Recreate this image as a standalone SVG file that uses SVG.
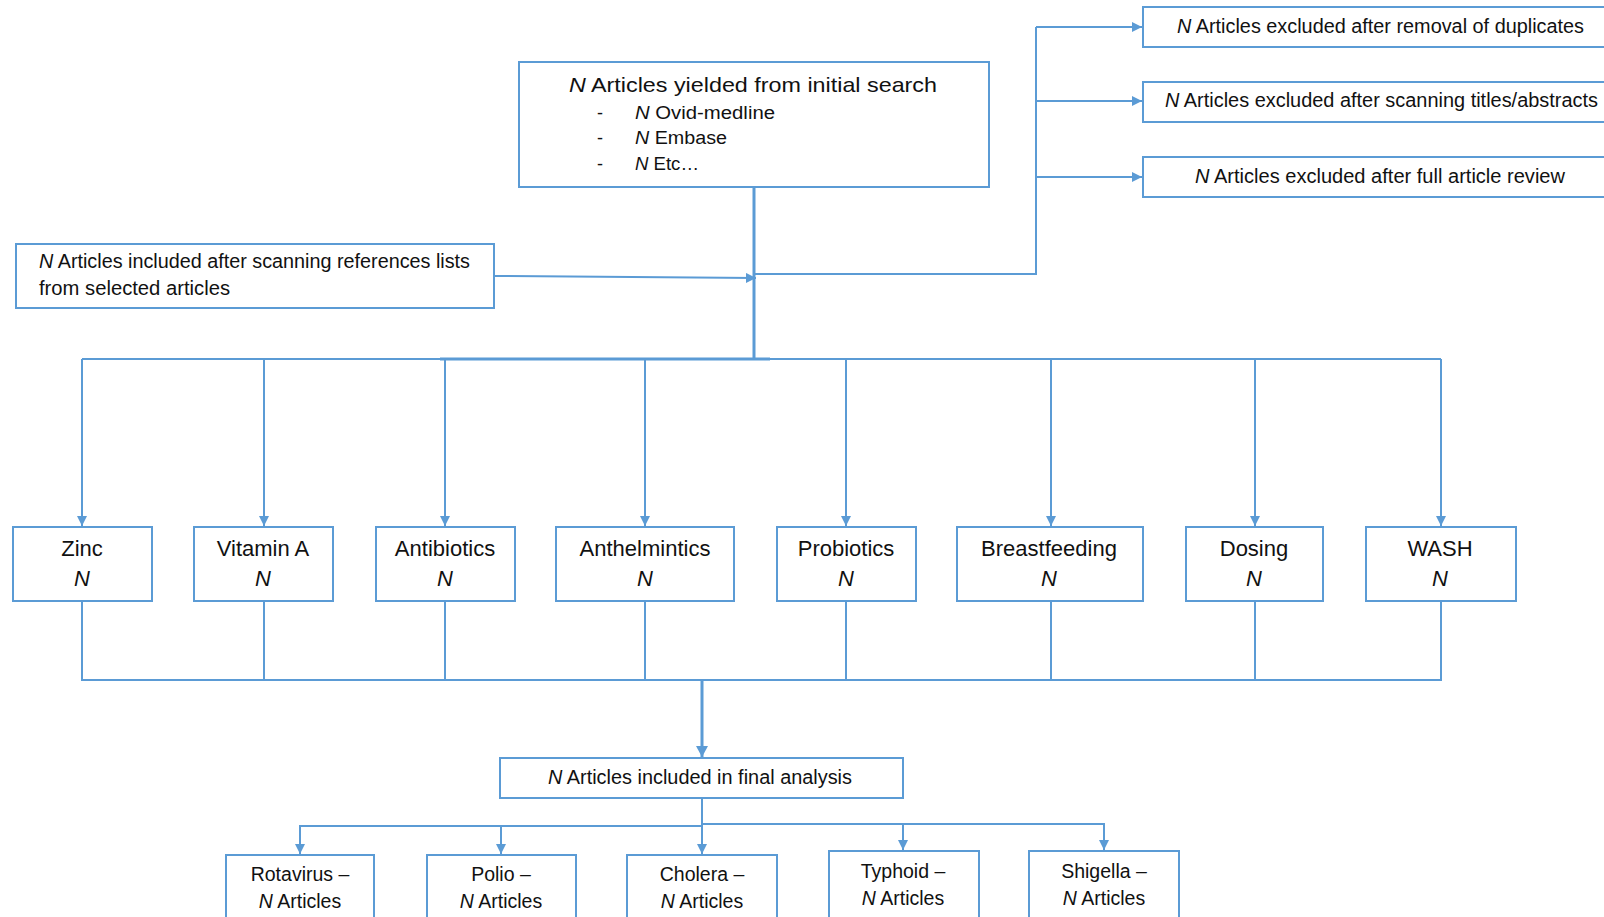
<svg xmlns="http://www.w3.org/2000/svg" width="1604" height="917" viewBox="0 0 1604 917">
<style>
.box{fill:#fff;stroke:#5B9BD5;stroke-width:2}
.ln{fill:none;stroke:#5B9BD5;stroke-width:2}
.tk{fill:none;stroke:#5B9BD5;stroke-width:3}
text{font-family:"Liberation Sans",Arial,sans-serif;fill:#111}
.c{text-anchor:middle}
.it{font-style:italic}
.f22{font-size:22px}
.f19{font-size:19.5px}
.f18{font-size:18px}
</style>
<defs>
<marker id="ah" markerUnits="userSpaceOnUse" markerWidth="10" markerHeight="10" refX="10" refY="5" orient="auto">
<path d="M0,0 L10,5 L0,10 z" fill="#5B9BD5"/>
</marker>
<marker id="ahb" markerUnits="userSpaceOnUse" markerWidth="12" markerHeight="12" refX="11" refY="6" orient="auto">
<path d="M0,0 L11,6 L0,12 z" fill="#5B9BD5"/>
</marker>
</defs>
<g id="connectors">
<line class="tk" x1="754" y1="187" x2="754" y2="360"/>
<polyline class="ln" points="754,274 1036,274 1036,27"/>
<line class="ln" x1="1036" y1="27" x2="1142" y2="27" marker-end="url(#ah)"/>
<line class="ln" x1="1036" y1="101" x2="1142" y2="101" marker-end="url(#ah)"/>
<line class="ln" x1="1036" y1="177" x2="1142" y2="177" marker-end="url(#ah)"/>
<line class="ln" x1="494" y1="276" x2="756" y2="278" marker-end="url(#ah)"/>
<line class="ln" x1="82" y1="359" x2="1441" y2="359"/>
<line class="tk" x1="440" y1="359" x2="770" y2="359"/>
<line class="ln" x1="82" y1="359" x2="82" y2="526" marker-end="url(#ah)"/>
<line class="ln" x1="264" y1="359" x2="264" y2="526" marker-end="url(#ah)"/>
<line class="ln" x1="445" y1="359" x2="445" y2="526" marker-end="url(#ah)"/>
<line class="ln" x1="645" y1="359" x2="645" y2="526" marker-end="url(#ah)"/>
<line class="ln" x1="846" y1="359" x2="846" y2="526" marker-end="url(#ah)"/>
<line class="ln" x1="1051" y1="359" x2="1051" y2="526" marker-end="url(#ah)"/>
<line class="ln" x1="1255" y1="359" x2="1255" y2="526" marker-end="url(#ah)"/>
<line class="ln" x1="1441" y1="359" x2="1441" y2="526" marker-end="url(#ah)"/>
<polyline class="ln" points="82,601 82,680 1441,680 1441,601"/>
<line class="ln" x1="264" y1="601" x2="264" y2="680"/>
<line class="ln" x1="445" y1="601" x2="445" y2="680"/>
<line class="ln" x1="645" y1="601" x2="645" y2="680"/>
<line class="ln" x1="846" y1="601" x2="846" y2="680"/>
<line class="ln" x1="1051" y1="601" x2="1051" y2="680"/>
<line class="ln" x1="1255" y1="601" x2="1255" y2="680"/>
<line class="tk" x1="702" y1="680" x2="702" y2="757" marker-end="url(#ahb)"/>
<line class="ln" x1="702" y1="798" x2="702" y2="826"/>
<polyline class="ln" points="300,854 300,826 702,826"/>
<line class="ln" x1="501" y1="826" x2="501" y2="854" marker-end="url(#ah)"/>
<line class="ln" x1="702" y1="826" x2="702" y2="854" marker-end="url(#ah)"/>
<polyline class="ln" points="702,824 1104,824 1104,850" marker-end="url(#ah)"/>
<line class="ln" x1="903" y1="824" x2="903" y2="850" marker-end="url(#ah)"/>
<line class="ln" x1="300" y1="826" x2="300" y2="854" marker-end="url(#ah)"/>
</g>
<g id="n-initial">
<rect class="box" x="519" y="62" width="470" height="125"/>
<text x="569" y="92" font-size="21" textLength="368" lengthAdjust="spacingAndGlyphs"><tspan class="it">N</tspan> Articles yielded from initial search</text>
<text x="597" y="119" class="f18">-</text>
<text x="635" y="119" class="f18" textLength="140" lengthAdjust="spacingAndGlyphs"><tspan class="it">N</tspan> Ovid-medline</text>
<text x="597" y="144" class="f18">-</text>
<text x="635" y="144" class="f18" textLength="92" lengthAdjust="spacingAndGlyphs"><tspan class="it">N</tspan> Embase</text>
<text x="597" y="170" class="f18">-</text>
<text x="635" y="170" class="f18" textLength="64" lengthAdjust="spacingAndGlyphs"><tspan class="it">N</tspan> Etc…</text>
</g>
<g id="n-dup">
<rect class="box" x="1143" y="7" width="470" height="40"/>
<text x="1177" y="33" class="f19" textLength="407" lengthAdjust="spacingAndGlyphs"><tspan class="it">N</tspan> Articles excluded after removal of duplicates</text>
</g>
<g id="n-titles">
<rect class="box" x="1143" y="82" width="470" height="40"/>
<text x="1165" y="107" class="f19" textLength="433" lengthAdjust="spacingAndGlyphs"><tspan class="it">N</tspan> Articles excluded after scanning titles/abstracts</text>
</g>
<g id="n-full">
<rect class="box" x="1143" y="157" width="470" height="40"/>
<text x="1195" y="183" class="f19" textLength="370" lengthAdjust="spacingAndGlyphs"><tspan class="it">N</tspan> Articles excluded after full article review</text>
</g>
<g id="n-refs">
<rect class="box" x="16" y="244" width="478" height="64"/>
<text x="39" y="268" class="f19" textLength="431" lengthAdjust="spacingAndGlyphs"><tspan class="it">N</tspan> Articles included after scanning references lists</text>
<text x="39" y="295" class="f19" textLength="191" lengthAdjust="spacingAndGlyphs">from selected articles</text>
</g>
<g id="n-zinc">
<rect class="box" x="13" y="527" width="139" height="74"/>
<text x="82" y="556" class="f22 c">Zinc</text>
<text x="82" y="586" class="f22 c it">N</text>
</g>
<g id="n-vita">
<rect class="box" x="194" y="527" width="139" height="74"/>
<text x="263" y="556" class="f22 c">Vitamin A</text>
<text x="263" y="586" class="f22 c it">N</text>
</g>
<g id="n-antib">
<rect class="box" x="376" y="527" width="139" height="74"/>
<text x="445" y="556" class="f22 c">Antibiotics</text>
<text x="445" y="586" class="f22 c it">N</text>
</g>
<g id="n-anth">
<rect class="box" x="556" y="527" width="178" height="74"/>
<text x="645" y="556" class="f22 c">Anthelmintics</text>
<text x="645" y="586" class="f22 c it">N</text>
</g>
<g id="n-prob">
<rect class="box" x="777" y="527" width="139" height="74"/>
<text x="846" y="556" class="f22 c">Probiotics</text>
<text x="846" y="586" class="f22 c it">N</text>
</g>
<g id="n-breast">
<rect class="box" x="957" y="527" width="186" height="74"/>
<text x="1049" y="556" class="f22 c">Breastfeeding</text>
<text x="1049" y="586" class="f22 c it">N</text>
</g>
<g id="n-dosing">
<rect class="box" x="1186" y="527" width="137" height="74"/>
<text x="1254" y="556" class="f22 c">Dosing</text>
<text x="1254" y="586" class="f22 c it">N</text>
</g>
<g id="n-wash">
<rect class="box" x="1366" y="527" width="150" height="74"/>
<text x="1440" y="556" class="f22 c">WASH</text>
<text x="1440" y="586" class="f22 c it">N</text>
</g>
<g id="n-final">
<rect class="box" x="500" y="758" width="403" height="40"/>
<text x="548" y="784" class="f19" textLength="304" lengthAdjust="spacingAndGlyphs"><tspan class="it">N</tspan> Articles included in final analysis</text>
</g>
<g id="n-rota">
<rect class="box" x="226" y="855" width="148" height="80"/>
<text x="300" y="881" class="f19 c">Rotavirus –</text>
<text x="300" y="908" class="f19 c"><tspan class="it">N</tspan> Articles</text>
</g>
<g id="n-polio">
<rect class="box" x="427" y="855" width="149" height="80"/>
<text x="501" y="881" class="f19 c">Polio –</text>
<text x="501" y="908" class="f19 c"><tspan class="it">N</tspan> Articles</text>
</g>
<g id="n-cholera">
<rect class="box" x="627" y="855" width="150" height="80"/>
<text x="702" y="881" class="f19 c">Cholera –</text>
<text x="702" y="908" class="f19 c"><tspan class="it">N</tspan> Articles</text>
</g>
<g id="n-typhoid">
<rect class="box" x="829" y="851" width="150" height="80"/>
<text x="903" y="878" class="f19 c">Typhoid –</text>
<text x="903" y="905" class="f19 c"><tspan class="it">N</tspan> Articles</text>
</g>
<g id="n-shigella">
<rect class="box" x="1029" y="851" width="150" height="80"/>
<text x="1104" y="878" class="f19 c">Shigella –</text>
<text x="1104" y="905" class="f19 c"><tspan class="it">N</tspan> Articles</text>
</g>
</svg>
